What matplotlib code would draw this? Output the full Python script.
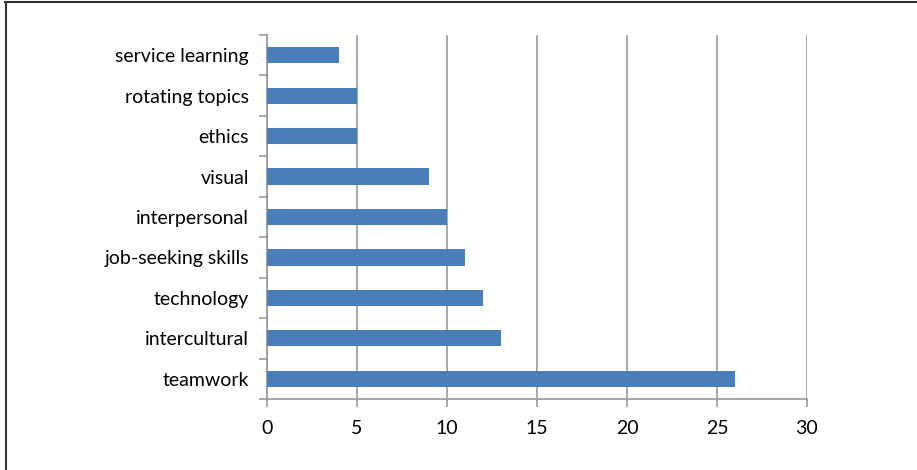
import matplotlib.pyplot as plt
from matplotlib.lines import Line2D

# data, bottom to top as drawn
topics = ["teamwork", "intercultural", "technology", "job-seeking skills",
          "interpersonal", "visual", "ethics", "rotating topics", "service learning"]
counts = [26, 13, 12, 11, 10, 9, 5, 5, 4]
xticks = [0, 5, 10, 15, 20, 25, 30]

plt.rcParams['font.family'] = ['Lato', 'DejaVu Sans']

fig = plt.figure(figsize=(9.17, 4.70), dpi=100)
ax = fig.add_axes([267/917, 1 - 399/470, 540/917, 364/470])

pos = list(range(len(topics)))
ax.barh(pos, counts, height=0.4, color="#4a7ebb", zorder=3)

ax.set_xlim(0, 30)
ax.set_ylim(-0.5, len(topics) - 0.5)
ax.set_xticks(xticks)
ax.set_xticklabels([str(t) for t in xticks])
ax.set_yticks(pos)
ax.set_yticklabels(topics)

# category boundary ticks on the y axis like excel
ax.set_yticks([p - 0.5 for p in pos] + [len(topics) - 0.5], minor=True)
ax.tick_params(axis="y", which="major", length=0, pad=13, labelsize=14)
ax.tick_params(axis="y", which="minor", length=6, width=1.2, color="#999999")
ax.tick_params(axis="x", length=6, width=1.2, color="#999999", labelsize=14, pad=9)

ax.grid(axis="x", color="#999999", linewidth=1.2, zorder=0)
for s in ["top", "right"]:
    ax.spines[s].set_visible(False)
for s in ["left", "bottom"]:
    ax.spines[s].set_color("#999999")
    ax.spines[s].set_linewidth(1.2)

# outer frame, only top and left
fig.add_artist(Line2D([5/917, 1], [1 - 1.5/470, 1 - 1.5/470], color="#333333", lw=1.5))
fig.add_artist(Line2D([5.5/917, 5.5/917], [0, 1 - 1.5/470], color="#333333", lw=1.5))

fig.savefig("out.png", dpi=100)
